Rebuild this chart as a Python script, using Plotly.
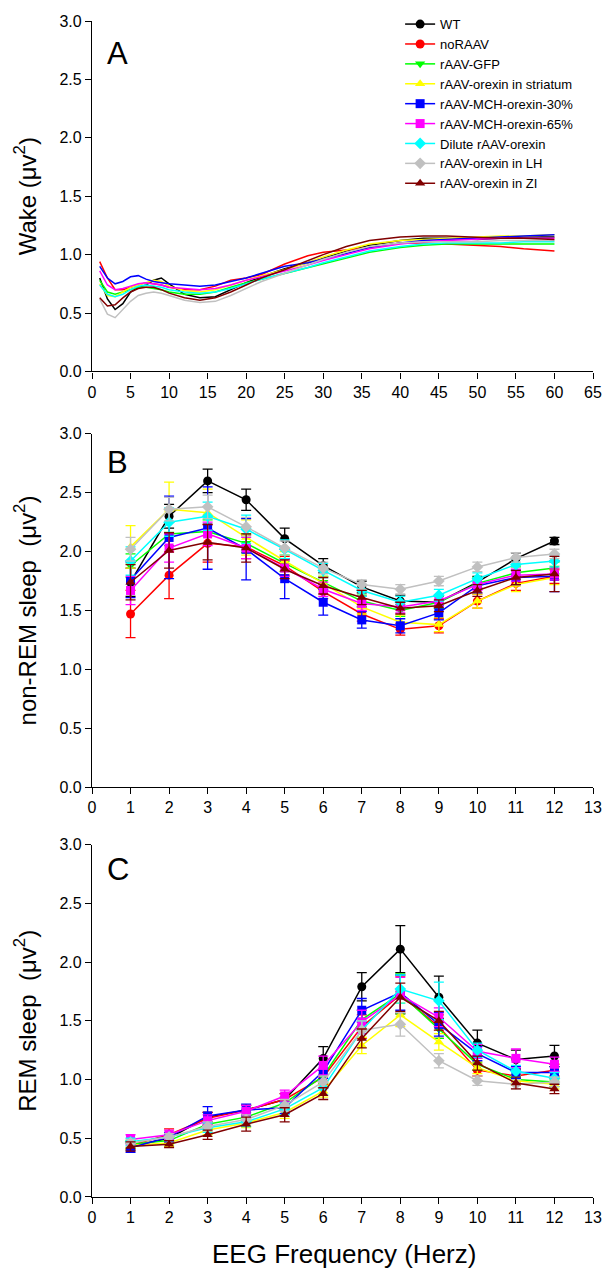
import plotly.graph_objects as go

# ---------------- data ----------------
names = ["WT", "noRAAV", "rAAV-GFP", "rAAV-orexin in striatum", "rAAV-MCH-orexin-30%",
         "rAAV-MCH-orexin-65%", "Dilute rAAV-orexin", "rAAV-orexin in LH", "rAAV-orexin in ZI"]
colors = ["#000000", "#ff0000", "#00ff00", "#ffff00", "#0000ff", "#ff00ff", "#00ffff", "#c0c0c0", "#800000"]
symbols = ["circle", "circle", "triangle-down", "triangle-up", "square", "square", "diamond", "diamond", "triangle-up"]

# Panel A: Wake spectrum
freq_a = [1, 2, 3, 4, 5, 6, 7, 8, 9, 10, 12, 14, 16, 18, 20, 22, 25, 28, 30, 33, 36, 40, 43, 46, 50, 53, 56, 60]
wake_wt = [0.80, 0.62, 0.53, 0.58, 0.68, 0.72, 0.74, 0.78, 0.80, 0.75, 0.66, 0.63, 0.64, 0.70, 0.76, 0.81, 0.88, 0.93, 0.97, 1.03, 1.08, 1.12, 1.14, 1.14, 1.13, 1.14, 1.15, 1.15]
wake_noraav = [0.94, 0.80, 0.70, 0.70, 0.72, 0.74, 0.76, 0.75, 0.74, 0.72, 0.70, 0.70, 0.73, 0.78, 0.80, 0.83, 0.92, 0.99, 1.02, 1.04, 1.06, 1.10, 1.10, 1.09, 1.08, 1.07, 1.05, 1.03]
wake_gfp = [0.78, 0.68, 0.66, 0.68, 0.70, 0.72, 0.72, 0.71, 0.70, 0.68, 0.66, 0.66, 0.68, 0.72, 0.76, 0.79, 0.84, 0.89, 0.92, 0.97, 1.02, 1.06, 1.08, 1.09, 1.09, 1.09, 1.09, 1.09]
wake_striatum = [0.75, 0.65, 0.64, 0.68, 0.72, 0.74, 0.76, 0.78, 0.77, 0.73, 0.69, 0.68, 0.70, 0.74, 0.78, 0.82, 0.87, 0.93, 0.98, 1.04, 1.09, 1.12, 1.13, 1.14, 1.15, 1.16, 1.16, 1.17]
wake_mch30 = [0.90, 0.80, 0.75, 0.77, 0.81, 0.82, 0.79, 0.77, 0.76, 0.75, 0.74, 0.73, 0.74, 0.77, 0.80, 0.84, 0.90, 0.93, 0.96, 1.01, 1.06, 1.10, 1.12, 1.13, 1.14, 1.15, 1.16, 1.17]
wake_mch65 = [0.86, 0.74, 0.70, 0.71, 0.73, 0.75, 0.76, 0.75, 0.74, 0.72, 0.71, 0.70, 0.71, 0.74, 0.78, 0.81, 0.86, 0.91, 0.95, 1.00, 1.05, 1.09, 1.11, 1.12, 1.13, 1.14, 1.14, 1.14]
wake_dilute = [0.74, 0.66, 0.64, 0.66, 0.70, 0.73, 0.74, 0.73, 0.72, 0.70, 0.68, 0.67, 0.68, 0.71, 0.75, 0.79, 0.84, 0.89, 0.93, 0.98, 1.03, 1.07, 1.09, 1.10, 1.10, 1.10, 1.11, 1.11]
wake_lh = [0.62, 0.49, 0.46, 0.53, 0.60, 0.65, 0.67, 0.68, 0.67, 0.65, 0.61, 0.59, 0.60, 0.65, 0.71, 0.77, 0.84, 0.91, 0.96, 1.02, 1.07, 1.10, 1.11, 1.11, 1.11, 1.12, 1.12, 1.12]
wake_zi = [0.63, 0.56, 0.57, 0.63, 0.68, 0.71, 0.72, 0.72, 0.70, 0.67, 0.63, 0.61, 0.63, 0.68, 0.74, 0.80, 0.87, 0.95, 1.00, 1.07, 1.12, 1.15, 1.16, 1.16, 1.15, 1.14, 1.14, 1.13]
wake = [wake_wt, wake_noraav, wake_gfp, wake_striatum, wake_mch30, wake_mch65, wake_dilute, wake_lh, wake_zi]

# Panels B and C: 1-12 Hz
freq_bc = [1, 2, 3, 4, 5, 6, 7, 8, 9, 10, 11, 12]

nrem_wt = [1.74, 2.30, 2.60, 2.44, 2.11, 1.88, 1.70, 1.58, 1.57, 1.74, 1.94, 2.09]
nrem_noraav = [1.47, 1.80, 2.07, 2.04, 1.88, 1.66, 1.47, 1.34, 1.37, 1.58, 1.73, 1.79]
nrem_gfp = [1.88, 2.15, 2.17, 2.07, 1.90, 1.74, 1.58, 1.50, 1.57, 1.73, 1.82, 1.86]
nrem_striatum = [2.04, 2.36, 2.33, 2.12, 1.92, 1.73, 1.53, 1.40, 1.38, 1.58, 1.72, 1.78]
nrem_mch30 = [1.76, 2.12, 2.20, 2.02, 1.77, 1.57, 1.42, 1.37, 1.48, 1.71, 1.78, 1.79]
nrem_mch65 = [1.67, 2.03, 2.15, 2.03, 1.86, 1.68, 1.56, 1.53, 1.58, 1.72, 1.80, 1.81]
nrem_dilute = [1.92, 2.25, 2.30, 2.19, 2.02, 1.84, 1.67, 1.57, 1.63, 1.77, 1.89, 1.92]
nrem_lh = [2.02, 2.36, 2.38, 2.21, 2.03, 1.86, 1.72, 1.68, 1.75, 1.87, 1.95, 1.98]
nrem_zi = [1.74, 2.01, 2.08, 2.03, 1.85, 1.71, 1.61, 1.52, 1.54, 1.67, 1.78, 1.81]
nrem = [nrem_wt, nrem_noraav, nrem_gfp, nrem_striatum, nrem_mch30, nrem_mch65, nrem_dilute, nrem_lh, nrem_zi]

nrem_err_wt = [0.12, 0.10, 0.10, 0.09, 0.09, 0.06, 0.05, 0.05, 0.05, 0.05, 0.05, 0.03]
nrem_err_noraav = [0.20, 0.20, 0.16, 0.10, 0.08, 0.06, 0.06, 0.05, 0.06, 0.06, 0.06, 0.06]
nrem_err_gfp = [0.10, 0.10, 0.10, 0.08, 0.07, 0.05, 0.05, 0.05, 0.05, 0.05, 0.05, 0.05]
nrem_err_striatum = [0.18, 0.23, 0.20, 0.15, 0.08, 0.06, 0.06, 0.06, 0.06, 0.06, 0.06, 0.06]
nrem_err_mch30 = [0.15, 0.35, 0.35, 0.26, 0.17, 0.11, 0.07, 0.06, 0.06, 0.06, 0.06, 0.13]
nrem_err_mch65 = [0.12, 0.12, 0.10, 0.09, 0.07, 0.06, 0.06, 0.05, 0.05, 0.05, 0.05, 0.05]
nrem_err_dilute = [0.12, 0.12, 0.12, 0.12, 0.08, 0.06, 0.05, 0.05, 0.05, 0.05, 0.05, 0.05]
nrem_err_lh = [0.10, 0.10, 0.10, 0.08, 0.06, 0.05, 0.04, 0.04, 0.04, 0.04, 0.04, 0.04]
nrem_err_zi = [0.15, 0.15, 0.15, 0.12, 0.08, 0.07, 0.06, 0.05, 0.05, 0.05, 0.06, 0.15]
nrem_err = [nrem_err_wt, nrem_err_noraav, nrem_err_gfp, nrem_err_striatum, nrem_err_mch30,
            nrem_err_mch65, nrem_err_dilute, nrem_err_lh, nrem_err_zi]

rem_wt = [0.43, 0.50, 0.68, 0.74, 0.83, 1.18, 1.79, 2.11, 1.70, 1.31, 1.17, 1.20]
rem_noraav = [0.44, 0.53, 0.67, 0.74, 0.83, 1.02, 1.45, 1.72, 1.45, 1.08, 1.03, 1.08]
rem_gfp = [0.45, 0.48, 0.62, 0.68, 0.80, 1.03, 1.51, 1.73, 1.43, 1.13, 1.00, 0.98]
rem_striatum = [0.44, 0.46, 0.57, 0.63, 0.72, 0.90, 1.29, 1.55, 1.32, 1.10, 0.99, 0.96]
rem_mch30 = [0.42, 0.51, 0.69, 0.74, 0.76, 1.07, 1.59, 1.74, 1.47, 1.22, 1.06, 1.06]
rem_mch65 = [0.49, 0.53, 0.65, 0.73, 0.86, 1.12, 1.49, 1.72, 1.53, 1.24, 1.18, 1.13]
rem_dilute = [0.47, 0.51, 0.59, 0.64, 0.75, 0.93, 1.42, 1.77, 1.67, 1.25, 1.07, 1.01]
rem_lh = [0.46, 0.51, 0.60, 0.66, 0.78, 0.98, 1.42, 1.47, 1.16, 0.99, 0.96, 0.98]
rem_zi = [0.43, 0.45, 0.53, 0.62, 0.70, 0.88, 1.35, 1.70, 1.50, 1.14, 0.97, 0.92]
rem = [rem_wt, rem_noraav, rem_gfp, rem_striatum, rem_mch30, rem_mch65, rem_dilute, rem_lh, rem_zi]

rem_err_wt = [0.03, 0.03, 0.04, 0.04, 0.05, 0.10, 0.12, 0.20, 0.18, 0.11, 0.08, 0.09]
rem_err_noraav = [0.03, 0.05, 0.05, 0.04, 0.05, 0.06, 0.10, 0.16, 0.10, 0.05, 0.05, 0.05]
rem_err_gfp = [0.03, 0.03, 0.04, 0.04, 0.05, 0.06, 0.08, 0.17, 0.08, 0.05, 0.04, 0.04]
rem_err_striatum = [0.03, 0.03, 0.04, 0.04, 0.05, 0.05, 0.07, 0.10, 0.07, 0.05, 0.04, 0.04]
rem_err_mch30 = [0.04, 0.04, 0.08, 0.05, 0.05, 0.06, 0.10, 0.15, 0.10, 0.06, 0.05, 0.05]
rem_err_mch65 = [0.04, 0.04, 0.05, 0.05, 0.05, 0.08, 0.10, 0.15, 0.08, 0.06, 0.08, 0.06]
rem_err_dilute = [0.03, 0.03, 0.04, 0.04, 0.05, 0.06, 0.08, 0.12, 0.16, 0.06, 0.05, 0.05]
rem_err_lh = [0.03, 0.03, 0.04, 0.04, 0.05, 0.05, 0.08, 0.10, 0.06, 0.04, 0.04, 0.04]
rem_err_zi = [0.04, 0.03, 0.04, 0.06, 0.06, 0.05, 0.08, 0.12, 0.08, 0.06, 0.05, 0.04]
rem_err = [rem_err_wt, rem_err_noraav, rem_err_gfp, rem_err_striatum, rem_err_mch30,
           rem_err_mch65, rem_err_dilute, rem_err_lh, rem_err_zi]

y_ticks = [0.0, 0.5, 1.0, 1.5, 2.0, 2.5, 3.0]
x_ticks_a = list(range(0, 66, 5))
x_ticks_bc = list(range(0, 14))

# ---------------- figure ----------------
FONT = "Arial, Liberation Sans, sans-serif"
fig = go.Figure()

for i, nm in enumerate(names):
    fig.add_trace(go.Scatter(x=freq_a, y=wake[i], mode="lines", name=nm, legendgroup=nm,
                             showlegend=False, line=dict(color=colors[i], width=1.5),
                             xaxis="x", yaxis="y"))

for i, nm in enumerate(names):
    fig.add_trace(go.Scatter(x=freq_bc, y=nrem[i], mode="lines+markers", name=nm, legendgroup=nm,
                             showlegend=True, line=dict(color=colors[i], width=1.5),
                             marker=dict(symbol=symbols[i], size=9, color=colors[i]),
                             error_y=dict(type="data", array=nrem_err[i], color=colors[i],
                                          thickness=1.3, width=5),
                             xaxis="x2", yaxis="y2"))

for i, nm in enumerate(names):
    fig.add_trace(go.Scatter(x=freq_bc, y=rem[i], mode="lines+markers", name=nm, legendgroup=nm,
                             showlegend=False, line=dict(color=colors[i], width=1.5),
                             marker=dict(symbol=symbols[i], size=9, color=colors[i]),
                             error_y=dict(type="data", array=rem_err[i], color=colors[i],
                                          thickness=1.3, width=5),
                             xaxis="x3", yaxis="y3"))

H_PLOT = 1188.0
def pf(py):
    return (1197 - py) / H_PLOT

axis_common = dict(showline=True, linecolor="black", linewidth=1.2, ticks="outside",
                   ticklen=6, tickcolor="black", tickwidth=1.2, showgrid=False, zeroline=False,
                   tickfont=dict(family=FONT, size=16, color="black"), mirror=False)

def yax(domain, title, anchor):
    return dict(axis_common, domain=domain, range=[0, 3], tickvals=y_ticks, tickformat=".1f",
                anchor=anchor,
                title=dict(text=title, font=dict(family=FONT, size=24, color="black"), standoff=16))

fig.update_layout(
    width=611, height=1280,
    margin=dict(l=92, r=13, t=9, b=83),
    paper_bgcolor="white", plot_bgcolor="white",
    showlegend=True,
    legend=dict(x=0.615, y=pf(-3), xanchor="left", yanchor="top", bgcolor="rgba(0,0,0,0)",
                font=dict(family=FONT, size=13, color="black"), tracegroupgap=0,
                itemwidth=30),
    xaxis=dict(axis_common, domain=[0, 1], range=[0, 65], tickvals=x_ticks_a, anchor="y"),
    yaxis=yax([pf(363), 1.0], "Wake (\u03bcv<sup>2</sup>)", "x"),
    xaxis2=dict(axis_common, domain=[0, 1], range=[0, 13], tickvals=x_ticks_bc, anchor="y2"),
    yaxis2=yax([pf(783), pf(426)], "non-REM sleep  (\u03bcv<sup>2</sup>)", "x2"),
    xaxis3=dict(axis_common, domain=[0, 1], range=[0, 13], tickvals=x_ticks_bc, anchor="y3"),
    yaxis3=yax([0, pf(841)], "REM sleep  (\u03bcv<sup>2</sup>)", "x3"),
)

panel_labels = [("A", 42), ("B", 455), ("C", 866)]
for txt, py in panel_labels:
    fig.add_annotation(text=txt, xref="paper", yref="paper", x=(118 - 92) / 506.0, y=pf(py),
                       xanchor="center", yanchor="middle", showarrow=False,
                       font=dict(family=FONT, size=31, color="black"))

fig.add_annotation(text="EEG Frequency (Herz)", xref="paper", yref="paper",
                   x=(347 - 92) / 506.0, y=pf(1255), xanchor="center", yanchor="middle",
                   showarrow=False, font=dict(family=FONT, size=26, color="black"))

fig.write_html("out.html", config={"displayModeBar": False},
               post_script="document.body.style.margin='0';")
